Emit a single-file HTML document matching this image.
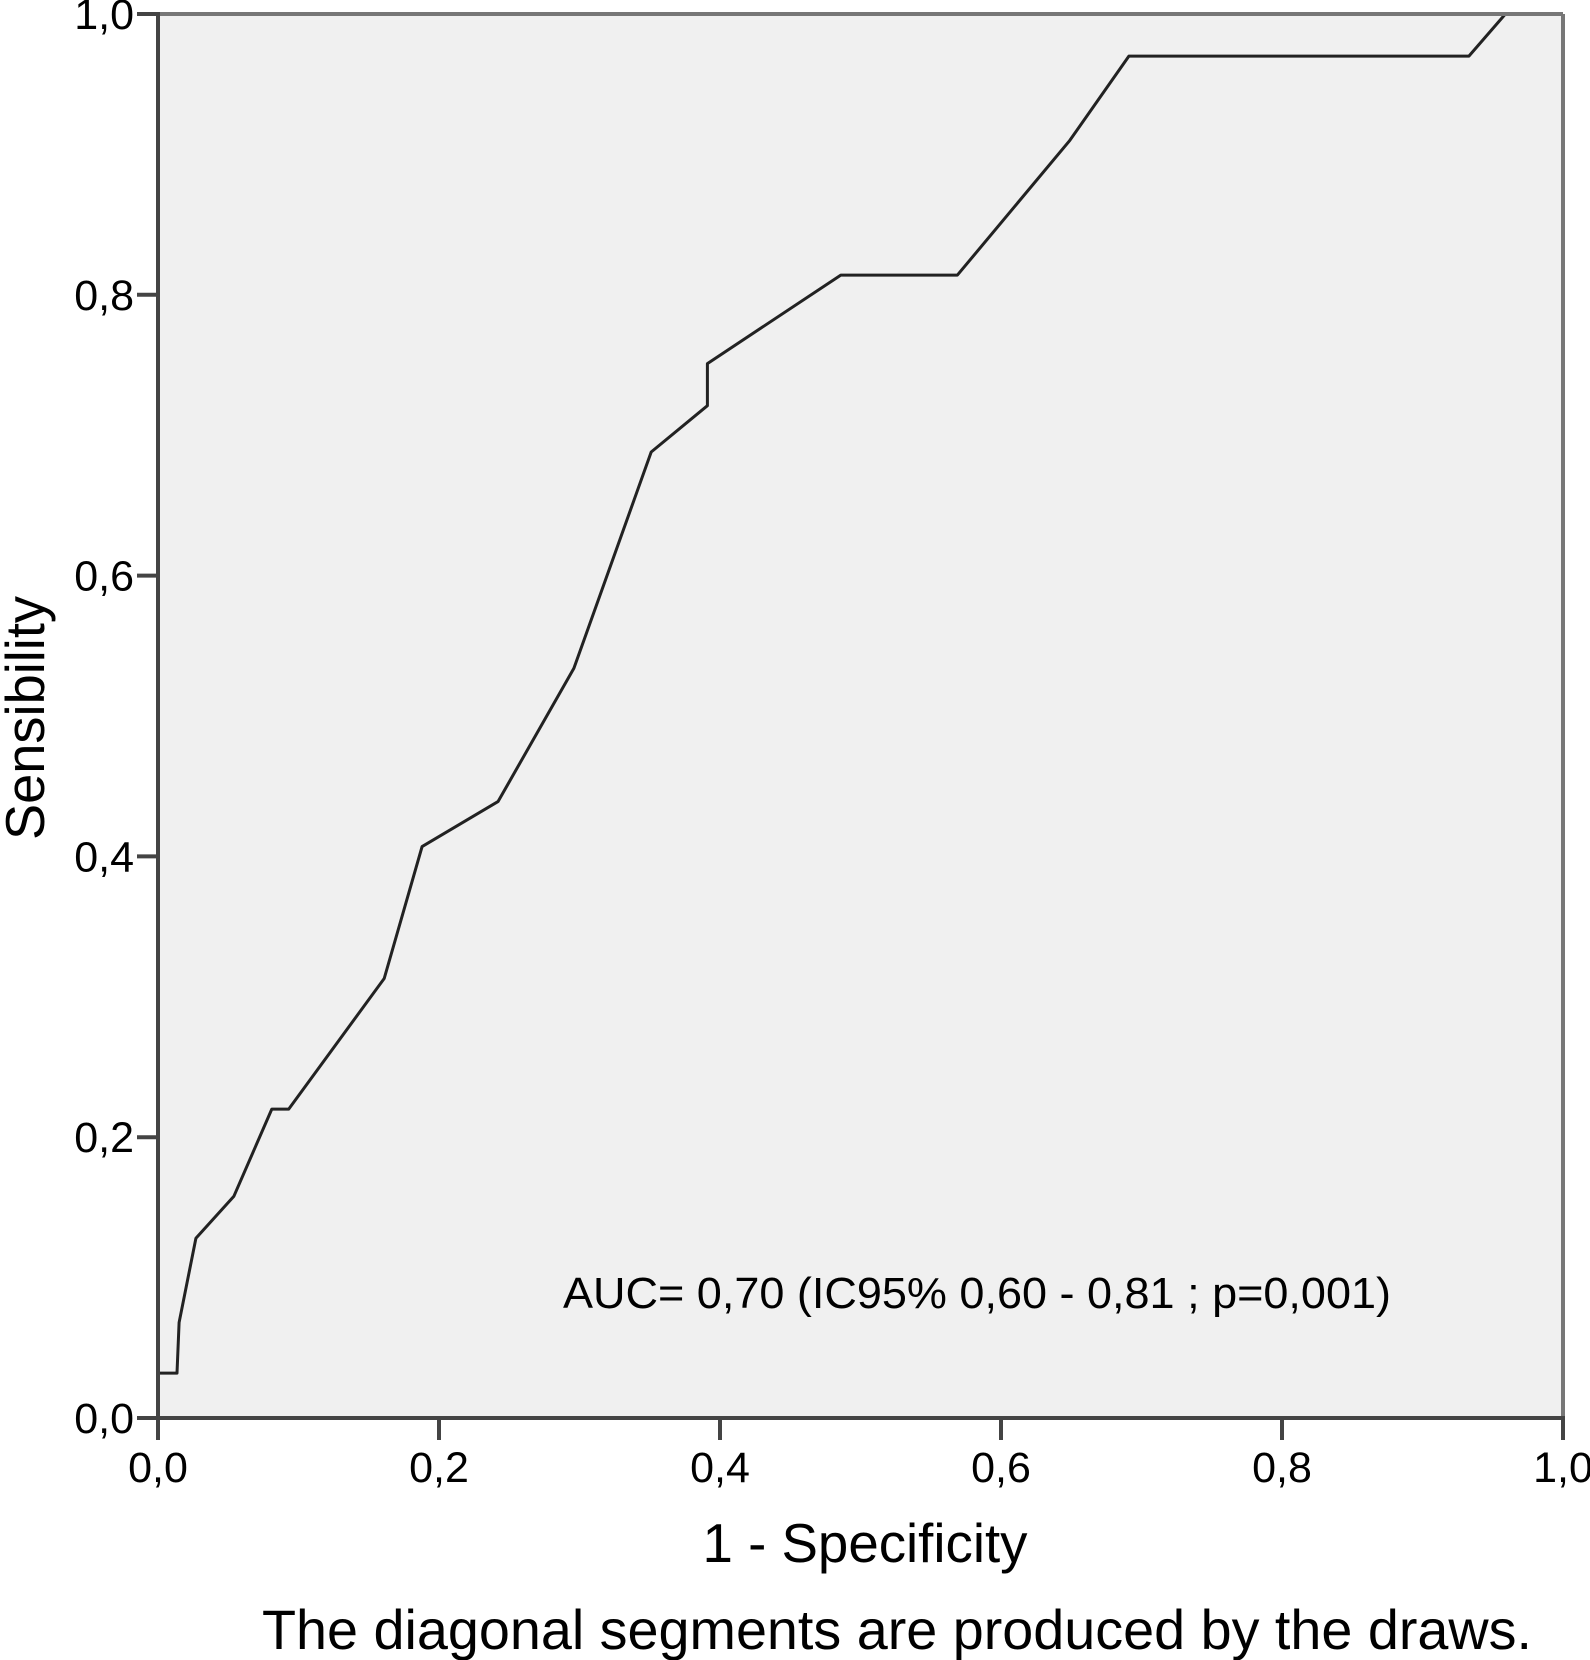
<!DOCTYPE html>
<html><head><meta charset="utf-8"><style>
html,body{margin:0;padding:0;background:#fff}
svg{display:block}
text{font-family:"Liberation Sans",Arial,sans-serif;fill:#000}
</style></head><body>
<svg id="chart" width="1590" height="1660">
<rect x="158" y="14" width="1405" height="1404" fill="#f0f0f0"/>
<g id="ticks"></g>
<path id="roc" fill="none" stroke="#222" stroke-width="3" stroke-linejoin="round"/>
<line x1="158" y1="14" x2="1563" y2="14" stroke="#777" stroke-width="4"/>
<line x1="1563" y1="14" x2="1563" y2="1418" stroke="#777" stroke-width="4"/>
<line x1="158" y1="12" x2="158" y2="1420" stroke="#444" stroke-width="4"/>
<line x1="156" y1="1418" x2="1565" y2="1418" stroke="#444" stroke-width="4"/>
<text x="563" y="1308" font-size="44" textLength="828" lengthAdjust="spacingAndGlyphs">AUC= 0,70 (IC95% 0,60 - 0,81 ; p=0,001)</text>
<text x="865" y="1562" font-size="55" text-anchor="middle" textLength="325" lengthAdjust="spacingAndGlyphs">1 - Specificity</text>
<text transform="translate(44,718) rotate(-90)" font-size="55" text-anchor="middle" textLength="244" lengthAdjust="spacingAndGlyphs">Sensibility</text>
<text x="897" y="1649" font-size="56" text-anchor="middle" textLength="1270" lengthAdjust="spacingAndGlyphs">The diagonal segments are produced by the draws.</text>
</svg>
<script>
const fpr=[0,0,0.0135,0.015,0.027,0.054,0.081,0.093,0.161,0.188,0.242,0.296,0.351,0.391,0.391,0.486,0.569,0.649,0.691,0.933,0.959,1];
const tpr=[0,0.032,0.032,0.068,0.128,0.158,0.22,0.22,0.313,0.407,0.439,0.534,0.688,0.721,0.751,0.814,0.814,0.910,0.970,0.970,1,1];
const tickVals=[0,0.2,0.4,0.6,0.8,1];
const tickLabels=["0,0","0,2","0,4","0,6","0,8","1,0"];
const X=v=>158+v*1405, Y=v=>1418-v*1404;
const NS="http://www.w3.org/2000/svg";
let d="";
for(let i=0;i<fpr.length;i++) d+=(i?"L":"M")+X(fpr[i]).toFixed(1)+","+Y(tpr[i]).toFixed(1);
document.getElementById("roc").setAttribute("d",d);
const g=document.getElementById("ticks");
tickVals.forEach((v,i)=>{
  let l=document.createElementNS(NS,"line");
  l.setAttribute("x1",137);l.setAttribute("x2",158);l.setAttribute("y1",Y(v));l.setAttribute("y2",Y(v));
  l.setAttribute("stroke","#444");l.setAttribute("stroke-width","4");
  
  
  g.appendChild(l);
  let t=document.createElementNS(NS,"text");
  t.setAttribute("x",134);t.setAttribute("y",Y(v)+15);t.setAttribute("font-size","43");t.setAttribute("text-anchor","end");
  t.textContent=tickLabels[i];
  
  
  g.appendChild(t);
  let l2=document.createElementNS(NS,"line");
  l2.setAttribute("x1",X(v));l2.setAttribute("x2",X(v));l2.setAttribute("y1",1418);l2.setAttribute("y2",1440);
  l2.setAttribute("stroke","#444");l2.setAttribute("stroke-width","4");
  
  
  g.appendChild(l2);
  let t2=document.createElementNS(NS,"text");
  t2.setAttribute("x",X(v));t2.setAttribute("y",1482);t2.setAttribute("font-size","43");t2.setAttribute("text-anchor","middle");
  t2.textContent=tickLabels[i];
  
  
  g.appendChild(t2);
});
</script>
</body></html>
